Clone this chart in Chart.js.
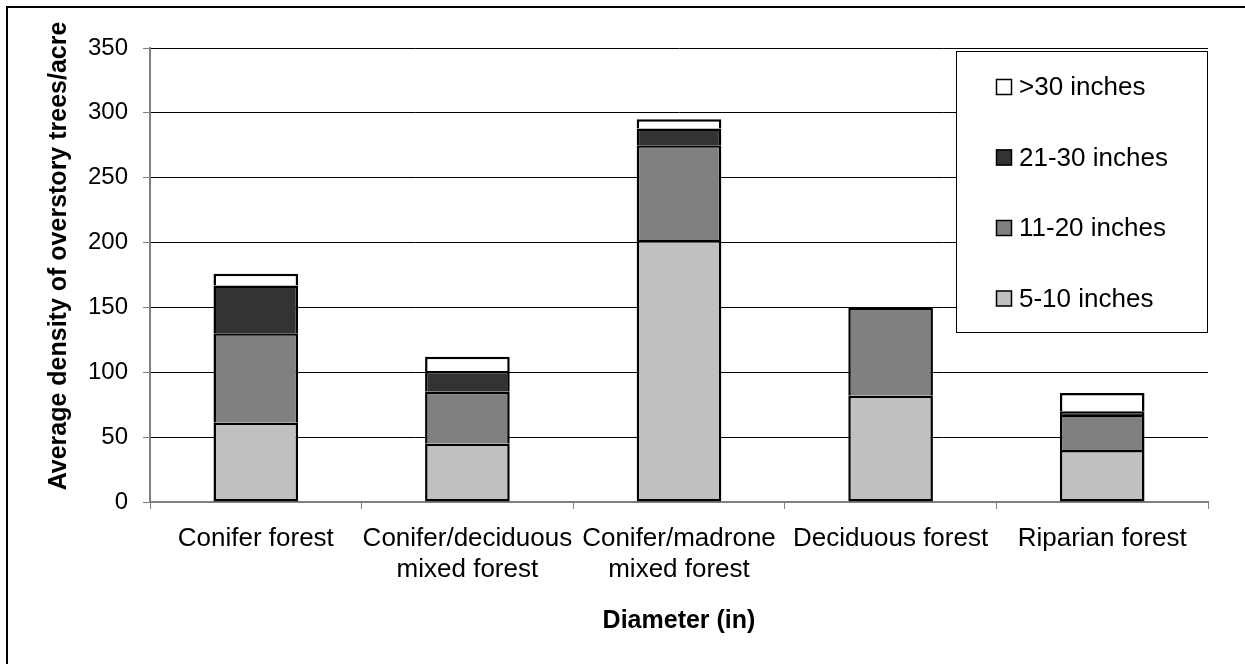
<!DOCTYPE html>
<html>
<head>
<meta charset="utf-8">
<script src="https://cdn.jsdelivr.net/npm/chart.js@4.4.1/dist/chart.umd.min.js"></script>
<style>
  html, body { margin: 0; padding: 0; background: #fff; }
  #wrap { width: 1245px; height: 664px; position: relative; }
  canvas { display: block; }
</style>
</head>
<body>
<div id="wrap"><canvas id="c" width="1245" height="664"></canvas></div>
<script>
// ---- Data ----
const categories = [
  'Conifer forest',
  ['Conifer/deciduous', 'mixed forest'],
  ['Conifer/madrone', 'mixed forest'],
  'Deciduous forest',
  'Riparian forest'
];
const seriesNames = ['5-10 inches', '11-20 inches', '21-30 inches', '>30 inches'];
const d5to10   = [61, 45, 202, 82, 40];
const d11to20  = [69, 40, 73, 68, 27];
const d21to30  = [37, 16, 13, 0, 3];
const dOver30  = [9, 11, 7, 0, 14];
const yTicks = [0, 50, 100, 150, 200, 250, 300, 350];
const yTitle = 'Average density of overstory trees/acre';
const xTitle = 'Diameter (in)';

const colors = ['#C0C0C0', '#808080', '#333333', '#FFFFFF'];
const FONT = "'Liberation Sans', Arial, Helvetica, sans-serif";

const seriesData = [d5to10, d11to20, d21to30, dOver30];
const datasets = seriesData.map((d, i) => ({
  label: seriesNames[i],
  data: d,
  backgroundColor: colors[i],
  borderColor: '#000000',
  borderWidth: 2.5,
  borderSkipped: i === 0 ? false : 'bottom',
  inflateAmount: 0,
  categoryPercentage: 1.0,
  barPercentage: 0.4
}));

const decorPlugin = {
  id: 'decor',
  beforeDraw(chart) {
    const ctx = chart.ctx;
    ctx.save();
    ctx.fillStyle = '#fff';
    ctx.fillRect(0, 0, chart.width, chart.height);
    ctx.strokeStyle = '#000';
    ctx.lineWidth = 2;
    ctx.beginPath();
    ctx.moveTo(7, 700);
    ctx.lineTo(7, 7);
    ctx.lineTo(1300, 7);
    ctx.stroke();
    ctx.restore();
  },
  afterDraw(chart) {
    const ctx = chart.ctx;
    ctx.save();
    ctx.fillStyle = '#000';
    ctx.font = 'bold 25px ' + FONT;
    ctx.textAlign = 'center';
    ctx.textBaseline = 'alphabetic';
    ctx.translate(66, 256);
    ctx.rotate(-Math.PI / 2);
    ctx.fillText(yTitle, 0, 0);
    ctx.restore();

    ctx.save();
    ctx.fillStyle = '#000';
    ctx.font = 'bold 25px ' + FONT;
    ctx.textAlign = 'center';
    ctx.textBaseline = 'alphabetic';
    const ca = chart.chartArea;
    ctx.fillText(xTitle, (ca.left + ca.right) / 2, 628);
    ctx.restore();

    // legend (inside plot, top right)
    ctx.save();
    const lx = 956, ly = 51, lw = ca.right - 956, lh = 282;
    ctx.fillStyle = '#fff';
    ctx.fillRect(lx, ly, lw, lh);
    ctx.strokeStyle = '#000';
    ctx.lineWidth = 1;
    ctx.strokeRect(lx + 0.5, ly + 0.5, lw - 1, lh - 1);
    ctx.font = '26px ' + FONT;
    ctx.textAlign = 'left';
    ctx.textBaseline = 'alphabetic';
    const order = [3, 2, 1, 0];
    order.forEach((di, k) => {
      const base = 95 + k * 70.5;
      const ds = chart.data.datasets[di];
      ctx.fillStyle = ds.backgroundColor;
      ctx.fillRect(996, base - 16, 16, 16);
      ctx.strokeStyle = '#000';
      ctx.lineWidth = 1.5;
      ctx.strokeRect(996.5, base - 15.5, 15, 15);
      ctx.fillStyle = '#000';
      ctx.fillText(ds.label, 1019, base);
    });
    ctx.restore();
  }
};

new Chart(document.getElementById('c'), {
  type: 'bar',
  data: { labels: categories, datasets },
  options: {
    responsive: false,
    animation: false,
    devicePixelRatio: 1,
    layout: { padding: { left: 0, right: 37, top: 48, bottom: 0 } },
    plugins: {
      legend: { display: false },
      tooltip: { enabled: false },
      title: { display: false }
    },
    scales: {
      x: {
        stacked: true,
        afterFit(scale) { scale.height = 162; },
        grid: {
          offset: true,
          drawOnChartArea: false,
          drawTicks: true,
          tickLength: 7,
          tickColor: '#808080',
          lineWidth: 1
        },
        border: { display: true, color: '#808080', width: 2 },
        ticks: {
          color: '#000',
          font: { family: FONT, size: 26, lineHeight: 1.2 },
          padding: 14,
          maxRotation: 0,
          autoSkip: false
        }
      },
      y: {
        stacked: true,
        min: 0,
        max: 350,
        afterFit(scale) { scale.width = 150; },
        afterBuildTicks(scale) { scale.ticks = yTicks.map(v => ({ value: v })); },
        grid: {
          color: '#000',
          lineWidth: 1,
          drawTicks: true,
          tickLength: 7,
          tickColor: '#808080'
        },
        border: { display: true, color: '#808080', width: 2 },
        ticks: {
          color: '#000',
          font: { family: FONT, size: 24 },
          padding: 15
        }
      }
    }
  },
  plugins: [decorPlugin]
});
</script>
</body>
</html>
